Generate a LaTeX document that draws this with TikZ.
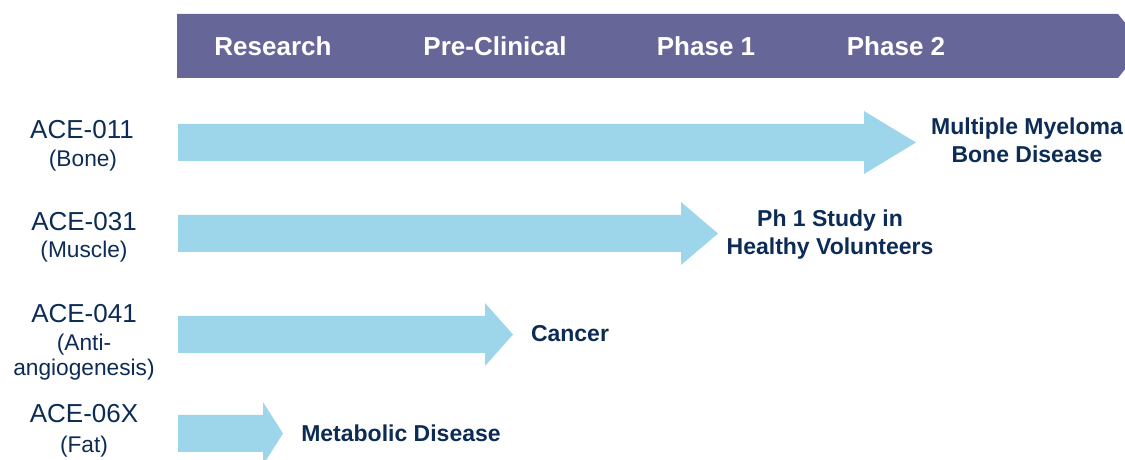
\documentclass[tikz,border=0pt]{standalone}
\usepackage{fontspec}
\setmainfont{Liberation Sans}
\definecolor{hdr}{HTML}{676699}
\definecolor{arr}{HTML}{9DD6EB}
\definecolor{navy}{HTML}{0C2C56}
\tikzset{
  phase/.style={anchor=base, text=white, font=\fontsize{26bp}{30bp}\selectfont\bfseries, inner sep=0pt},
  drug/.style={anchor=base, text=navy, font=\fontsize{26bp}{30bp}\selectfont, inner sep=0pt},
  sub/.style={anchor=base, text=navy, font=\fontsize{22.7bp}{27bp}\selectfont, inner sep=0pt},
  target/.style={anchor=base, text=navy, font=\fontsize{23bp}{27bp}\selectfont\bfseries, inner sep=0pt},
  bigarrow/.style={fill=arr, draw=none}
}
\newcommand{\pipearrow}[3]{% #1 center y, #2 head start x, #3 tip x
  \fill[bigarrow] (178,#1-18.5) -- (#2,#1-18.5) -- (#2,#1-31.5) -- (#3,#1) -- (#2,#1+31.5) -- (#2,#1+18.5) -- (178,#1+18.5) -- cycle;}
\begin{document}
\begin{tikzpicture}[x=1bp,y=-1bp]
\useasboundingbox (0,0) rectangle (1125,460);
% header bar
\fill[hdr] (177,14) -- (1118,14) -- (1126,24) -- (1126,68) -- (1118,78) -- (177,78) -- cycle;
\node[phase] (ph0) at (273,56) {Research};
\node[phase] (ph1) at (495,56) {Pre-Clinical};
\node[phase] (ph2) at (706,56) {Phase 1};
\node[phase] (ph3) at (896,56) {Phase 2};
% arrows
\pipearrow{142.5}{864}{916}
\pipearrow{233.5}{681}{718}
\pipearrow{334.5}{485}{513}
\pipearrow{433.5}{263}{283}
% left labels
\node[drug] (d1) at (82,139) {ACE-011};
\node[sub] (d1s) at (83,167) {(Bone)};
\node[drug] (d2) at (84,231) {ACE-031};
\node[sub] (d2s) at (84,258) {(Muscle)};
\node[drug] (d3) at (84,323) {ACE-041};
\node[sub] (d3s) at (84,351) {(Anti-};
\node[sub] (d3t) at (84,376) {angiogenesis)};
\node[drug] (d4) at (84,423) {ACE-06X};
\node[sub] (d4s) at (84,452) {(Fat)};
% right labels
\node[target] (t1) at (1027,135) {Multiple Myeloma};
\node[target] (t1b) at (1027,163) {Bone Disease};
\node[target] (t2) at (830,227) {Ph 1 Study in};
\node[target] (t2b) at (830,255) {Healthy Volunteers};
\node[target] (t3) at (570,342) {Cancer};
\node[target] (t4) at (401,442) {Metabolic Disease};
\end{tikzpicture}
\end{document}
